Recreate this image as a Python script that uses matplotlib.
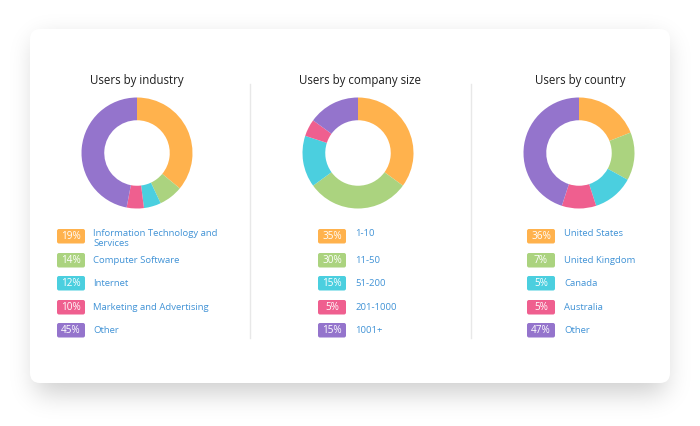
import numpy as np
import matplotlib
matplotlib.use("Agg")
import matplotlib.pyplot as plt
from matplotlib.patches import FancyBboxPatch

plt.rcParams['font.family'] = ['Open Sans', 'DejaVu Sans']

# ---- data ----
titles = ["Users by industry", "Users by company size", "Users by country"]

industry_labels = ["Information Technology and\nServices", "Computer Software", "Internet",
                   "Marketing and Advertising", "Other"]
industry_pct = [19, 14, 12, 10, 45]

size_labels = ["1-10", "11-50", "51-200", "201-1000", "1001+"]
size_pct = [35, 30, 15, 5, 15]

country_labels = ["United States", "United Kingdom", "Canada", "Australia", "Other"]
country_pct = [36, 7, 5, 5, 47]

# donut slices as drawn in the picture (left and right donuts appear swapped)
donut_left = [36, 7, 5, 5, 47]
donut_mid = [35, 30, 15, 5, 15]
donut_right = [19, 14, 12, 10, 45]

colors = ["#FFB24D", "#ABD37F", "#4BCFDF", "#EF5F8F", "#9474CC"]

W, H = 700, 426
fig = plt.figure(figsize=(W / 100, H / 100), dpi=100)
fig.patch.set_facecolor("white")
ax = fig.add_axes([0, 0, 1, 1])
ax.set_xlim(0, W)
ax.set_ylim(H, 0)
ax.axis("off")

# ---- shadow ----
yy, xx = np.mgrid[0:H, 0:W]
mask = ((xx >= 36) & (xx <= 664) & (yy >= 40) & (yy <= 392)).astype(float)
sigma = 13
k = np.arange(-3 * sigma, 3 * sigma + 1)
g = np.exp(-k ** 2 / (2 * sigma ** 2))
g /= g.sum()
blur = np.apply_along_axis(lambda r: np.convolve(r, g, mode="same"), 1, mask)
blur = np.apply_along_axis(lambda c: np.convolve(c, g, mode="same"), 0, blur)
rgba = np.zeros((H, W, 4))
rgba[..., 3] = blur * 0.2
ax.imshow(rgba, extent=(0, W, H, 0), zorder=0, interpolation="bilinear")
ax.set_xlim(0, W)
ax.set_ylim(H, 0)

# ---- card ----
card = FancyBboxPatch((30, 29), 640, 354, boxstyle="round,pad=0,rounding_size=10",
                      facecolor="white", edgecolor="none", zorder=1)
ax.add_patch(card)

# dividers
for x in (250, 471):
    ax.plot([x, x], [84, 338], color="#E8E8E8", lw=1, zorder=2)

centers = [(137, 153), (358, 153), (579, 153)]
title_x = [137, 360, 580]
R = 55.5

for tx, t in zip(title_x, titles):
    ax.text(tx, 80.5, t, ha="center", va="center", fontsize=8.3, color="#1E1E1E", zorder=3)

for (cx, cy), vals in zip(centers, [donut_left, donut_mid, donut_right]):
    dax = fig.add_axes([(cx - R) / W, 1 - (cy + R) / H, 2 * R / W, 2 * R / H])
    dax.pie(vals, colors=colors, startangle=90, counterclock=False,
            wedgeprops=dict(width=0.41, edgecolor="none"))
    dax.set_xlim(-1, 1)
    dax.set_ylim(-1, 1)
    dax.set_aspect("equal")
    dax.axis("off")

# ---- legends ----
row_y = [236, 260, 283, 307, 330]
label_color = "#4193D6"

def legend(badge_x, text_x, pcts, labels):
    for i, (p, lab) in enumerate(zip(pcts, labels)):
        y = row_y[i]
        b = FancyBboxPatch((badge_x, y - 7), 28, 14.5, boxstyle="round,pad=0,rounding_size=2",
                           facecolor=colors[i], edgecolor="none", zorder=3)
        ax.add_patch(b)
        ax.text(badge_x + 14, y + 0.8, f"{p}%", ha="center", va="center", fontsize=7.2,
                color="white", zorder=4)
        if i == 0:
            ax.text(text_x, 228.5, lab, ha="left", va="top", fontsize=6.8,
                    color=label_color, zorder=4, linespacing=1.2)
        else:
            ax.text(text_x, y + 0.5, lab, ha="left", va="center", fontsize=6.8,
                    color=label_color, zorder=4)

legend(57, 93, industry_pct, industry_labels)
legend(318, 355, size_pct, size_labels)
legend(527, 564, country_pct, country_labels)

fig.savefig("out.png", dpi=100, facecolor="white")
